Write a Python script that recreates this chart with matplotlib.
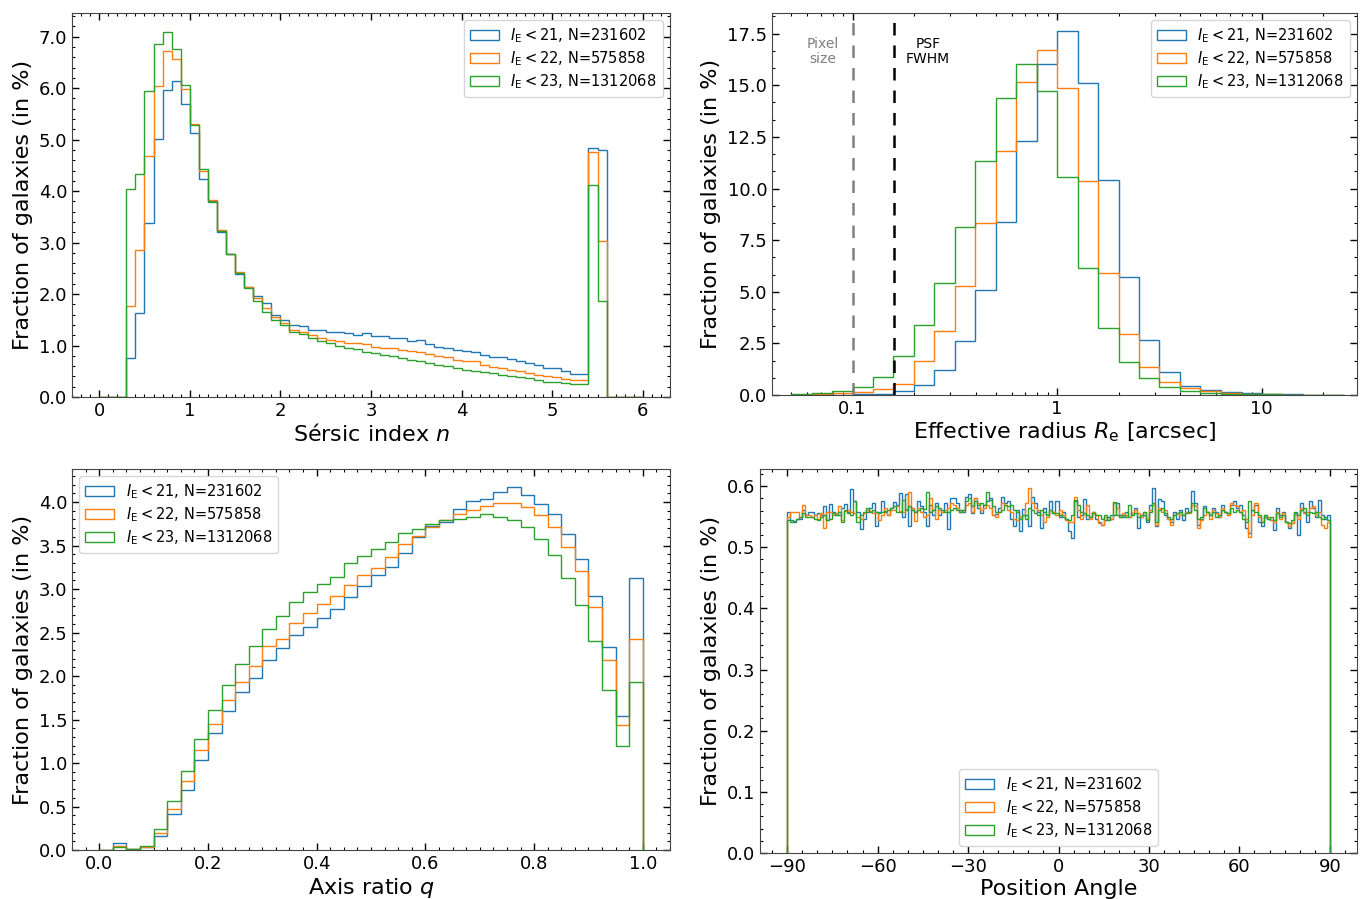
import numpy as np
import matplotlib
matplotlib.use("Agg")
import matplotlib.pyplot as plt
from matplotlib.ticker import AutoMinorLocator, MultipleLocator, FormatStrFormatter, FuncFormatter

labels = [r"$I_{\rm E}<21$, N=231602",
          r"$I_{\rm E}<22$, N=575858",
          r"$I_{\rm E}<23$, N=1312068"]
colors = ["tab:blue", "tab:orange", "tab:green"]

# Sersic index, bins of 0.1 from 0 to 6
sersic_edges = np.linspace(0, 6, 61)
sersic_21 = [0, 0, 0, 0.76, 1.64, 3.39, 5.01, 5.97, 6.14, 5.69, 5.12, 4.24, 3.80, 3.21, 2.77, 2.38,
             2.13, 1.97, 1.82, 1.59, 1.49, 1.40, 1.37, 1.30, 1.30, 1.26, 1.27, 1.24, 1.21, 1.24,
             1.18, 1.19, 1.15, 1.15, 1.09, 1.10, 1.03, 0.97, 0.96, 0.92, 0.90, 0.87, 0.82, 0.77,
             0.78, 0.73, 0.70, 0.66, 0.62, 0.57, 0.56, 0.50, 0.44, 0.44, 4.84, 4.80, 0, 0, 0, 0]
sersic_22 = [0, 0, 0, 1.76, 2.85, 4.68, 6.04, 6.72, 6.57, 5.98, 5.30, 4.40, 3.83, 3.24, 2.78, 2.42,
             2.14, 1.92, 1.73, 1.55, 1.44, 1.31, 1.27, 1.21, 1.15, 1.11, 1.08, 1.05, 1.04, 1.03,
             0.98, 0.95, 0.95, 0.91, 0.89, 0.87, 0.83, 0.80, 0.77, 0.72, 0.70, 0.69, 0.62, 0.59,
             0.56, 0.53, 0.50, 0.46, 0.43, 0.40, 0.38, 0.35, 0.33, 0.33, 4.75, 3.03, 0, 0, 0, 0]
sersic_23 = [0, 0, 0, 4.05, 4.33, 5.95, 6.86, 7.10, 6.76, 6.07, 5.28, 4.42, 3.79, 3.22, 2.77, 2.40,
             2.12, 1.86, 1.66, 1.50, 1.39, 1.27, 1.22, 1.14, 1.09, 1.05, 0.99, 0.96, 0.93, 0.88,
             0.85, 0.82, 0.79, 0.76, 0.72, 0.69, 0.66, 0.63, 0.60, 0.56, 0.53, 0.51, 0.49, 0.46,
             0.42, 0.40, 0.38, 0.36, 0.33, 0.30, 0.29, 0.27, 0.25, 0.25, 4.12, 1.87, 0, 0, 0, 0]

# Effective radius, bins of 0.1 dex from 10^-1.3 to 10^1.4
re_log_edges = np.round(np.arange(-13, 15) / 10, 1)
re_21 = [0.0, 0.01, 0.02, 0.03, 0.07, 0.20, 0.50, 1.21, 2.63, 5.09, 8.40, 12.28, 16.05, 17.62,
         15.11, 10.39, 5.70, 2.68, 1.09, 0.45, 0.24, 0.14, 0.10, 0.06, 0.04, 0.02, 0.01]
re_22 = [0.01, 0.03, 0.09, 0.15, 0.30, 0.53, 1.63, 3.08, 5.30, 8.32, 11.82, 15.16, 16.73, 14.89,
         10.34, 5.91, 2.95, 1.38, 0.61, 0.32, 0.18, 0.10, 0.06, 0.04, 0.02, 0.01, 0.01]
re_23 = [0.03, 0.09, 0.19, 0.40, 0.88, 1.87, 3.41, 5.44, 8.13, 11.35, 14.36, 16.02, 14.73, 10.55,
         6.16, 3.23, 1.58, 0.80, 0.40, 0.20, 0.12, 0.07, 0.04, 0.03, 0.02, 0.01, 0.01]
pixel_size = 0.1
psf_fwhm = 0.16

# Axis ratio, bins of 0.025 from 0 to 1
q_edges = np.linspace(0, 1, 41)
q_21 = [0, 0.08, 0.01, 0.03, 0.16, 0.41, 0.69, 1.03, 1.34, 1.60, 1.82, 1.98, 2.19, 2.32, 2.47,
        2.56, 2.67, 2.77, 2.91, 3.03, 3.16, 3.25, 3.42, 3.60, 3.72, 3.77, 3.92, 4.01, 4.04, 4.11,
        4.17, 4.08, 3.98, 3.86, 3.63, 3.34, 2.92, 2.33, 1.54, 3.13]
q_22 = [0, 0.05, 0.01, 0.04, 0.19, 0.47, 0.79, 1.15, 1.45, 1.73, 1.93, 2.12, 2.34, 2.42, 2.61,
        2.72, 2.83, 2.92, 3.05, 3.16, 3.24, 3.37, 3.52, 3.61, 3.71, 3.79, 3.86, 3.91, 3.95, 3.99,
        3.99, 3.94, 3.85, 3.71, 3.48, 3.21, 2.79, 2.19, 1.44, 2.43]
q_23 = [0, 0.03, 0.01, 0.05, 0.24, 0.56, 0.91, 1.28, 1.61, 1.90, 2.14, 2.35, 2.54, 2.69, 2.85,
        2.97, 3.06, 3.14, 3.30, 3.38, 3.46, 3.54, 3.64, 3.69, 3.75, 3.79, 3.81, 3.83, 3.86, 3.83,
        3.79, 3.71, 3.58, 3.39, 3.13, 2.82, 2.40, 1.84, 1.19, 1.93]

# Position angle, bins of 1 deg from -90 to 90
pa_edges = np.arange(-90, 91, 1)
pa_21 = [0.557, 0.545, 0.542, 0.547, 0.547, 0.561, 0.553, 0.558, 0.558, 0.553,
         0.556, 0.553, 0.568, 0.545, 0.571, 0.558, 0.553, 0.553, 0.564, 0.570,
         0.558, 0.595, 0.575, 0.558, 0.530, 0.547, 0.558, 0.564, 0.573, 0.535,
         0.558, 0.576, 0.558, 0.553, 0.564, 0.574, 0.569, 0.588, 0.550, 0.587,
         0.535, 0.564, 0.558, 0.575, 0.567, 0.558, 0.535, 0.569, 0.553, 0.572,
         0.553, 0.558, 0.572, 0.530, 0.580, 0.580, 0.572, 0.561, 0.558,
         0.583, 0.587, 0.556, 0.580, 0.564, 0.556, 0.569, 0.575, 0.580, 0.553,
         0.554, 0.564, 0.583, 0.572, 0.575, 0.547, 0.534, 0.561, 0.527, 0.563,
         0.553, 0.534, 0.583, 0.572, 0.558, 0.531, 0.564, 0.553, 0.575, 0.556,
         0.576, 0.550, 0.558, 0.547, 0.526, 0.515, 0.575, 0.550, 0.553, 0.579,
         0.547, 0.550, 0.558, 0.547, 0.542, 0.536, 0.545, 0.550, 0.547, 0.553,
         0.572, 0.553, 0.550, 0.558, 0.550, 0.556, 0.564, 0.532, 0.550, 0.553,
         0.542, 0.569, 0.597, 0.534, 0.579, 0.575, 0.553, 0.547, 0.542, 0.558,
         0.547, 0.561, 0.545, 0.564, 0.558, 0.592, 0.572, 0.536, 0.547, 0.567,
         0.558, 0.553, 0.564, 0.558, 0.550, 0.569, 0.558, 0.553, 0.569, 0.575,
         0.564, 0.569, 0.553, 0.531, 0.523, 0.561, 0.569, 0.542, 0.534, 0.550,
         0.547, 0.545, 0.528, 0.564, 0.553, 0.558, 0.542, 0.531, 0.539, 0.556,
         0.520, 0.572, 0.558, 0.542, 0.575, 0.565, 0.550, 0.577, 0.553, 0.547,
         0.553]
pa_22 = [0.550, 0.557, 0.557, 0.557, 0.550, 0.569, 0.553, 0.553, 0.550, 0.553,
         0.547, 0.556, 0.531, 0.558, 0.558, 0.553, 0.556, 0.567, 0.545, 0.559,
         0.561, 0.558, 0.556, 0.550, 0.547, 0.556, 0.561, 0.559, 0.556, 0.558,
         0.545, 0.553, 0.565, 0.553, 0.561, 0.561, 0.567, 0.559, 0.558, 0.563,
         0.591, 0.564, 0.543, 0.564, 0.558, 0.550, 0.553, 0.580, 0.561, 0.547,
         0.561, 0.558, 0.561, 0.564, 0.572, 0.569, 0.564, 0.558, 0.561,
         0.569, 0.572, 0.558, 0.580, 0.572, 0.561, 0.564, 0.569, 0.564, 0.553,
         0.550, 0.558, 0.572, 0.569, 0.561, 0.558, 0.547, 0.545, 0.550, 0.552,
         0.572, 0.597, 0.572, 0.564, 0.561, 0.553, 0.542, 0.549, 0.561, 0.558,
         0.553, 0.561, 0.553, 0.545, 0.542, 0.542, 0.583, 0.561, 0.547, 0.553,
         0.569, 0.547, 0.558, 0.553, 0.539, 0.536, 0.550, 0.545, 0.547, 0.572,
         0.564, 0.550, 0.556, 0.553, 0.550, 0.556, 0.561, 0.556, 0.550, 0.558,
         0.547, 0.561, 0.569, 0.536, 0.564, 0.558, 0.561, 0.547, 0.536, 0.553,
         0.556, 0.553, 0.553, 0.558, 0.556, 0.569, 0.567, 0.531, 0.545, 0.553,
         0.558, 0.547, 0.561, 0.556, 0.550, 0.564, 0.558, 0.553, 0.572, 0.569,
         0.567, 0.558, 0.561, 0.547, 0.517, 0.553, 0.572, 0.550, 0.542, 0.553,
         0.550, 0.545, 0.542, 0.558, 0.547, 0.556, 0.542, 0.534, 0.539, 0.553,
         0.547, 0.564, 0.556, 0.558, 0.564, 0.567, 0.553, 0.558, 0.536, 0.531,
         0.542]
pa_23 = [0.545, 0.542, 0.543, 0.547, 0.550, 0.556, 0.550, 0.549, 0.550, 0.547,
         0.545, 0.549, 0.553, 0.545, 0.547, 0.556, 0.553, 0.558, 0.542, 0.561,
         0.556, 0.553, 0.576, 0.542, 0.552, 0.558, 0.564, 0.558, 0.561, 0.558,
         0.556, 0.558, 0.559, 0.561, 0.564, 0.567, 0.558, 0.558, 0.577, 0.561,
         0.567, 0.561, 0.558, 0.561, 0.564, 0.563, 0.591, 0.558, 0.561, 0.567,
         0.564, 0.561, 0.558, 0.558, 0.561, 0.564, 0.561, 0.558, 0.561,
         0.575, 0.580, 0.567, 0.575, 0.569, 0.572, 0.569, 0.591, 0.577, 0.567,
         0.558, 0.558, 0.561, 0.569, 0.567, 0.569, 0.561, 0.558, 0.547, 0.553,
         0.547, 0.564, 0.561, 0.556, 0.553, 0.561, 0.558, 0.553, 0.561, 0.556,
         0.556, 0.553, 0.550, 0.547, 0.545, 0.553, 0.577, 0.569, 0.558, 0.556,
         0.553, 0.550, 0.556, 0.553, 0.553, 0.547, 0.553, 0.545, 0.553, 0.574,
         0.553, 0.550, 0.553, 0.550, 0.569, 0.553, 0.556, 0.550, 0.553, 0.558,
         0.545, 0.558, 0.572, 0.542, 0.561, 0.564, 0.556, 0.550, 0.547, 0.553,
         0.556, 0.558, 0.553, 0.556, 0.558, 0.572, 0.561, 0.547, 0.550, 0.564,
         0.558, 0.553, 0.558, 0.550, 0.553, 0.561, 0.558, 0.556, 0.564, 0.558,
         0.561, 0.558, 0.547, 0.542, 0.575, 0.561, 0.558, 0.553, 0.542, 0.553,
         0.547, 0.550, 0.545, 0.556, 0.550, 0.553, 0.542, 0.539, 0.545, 0.558,
         0.553, 0.561, 0.564, 0.553, 0.558, 0.556, 0.558, 0.550, 0.547, 0.550,
         0.545]

W, H = 1366, 899
fig = plt.figure(figsize=(W / 100, H / 100), dpi=100)


def box(l, r, t, b):
    return [l / W, 1 - b / H, (r - l) / W, (b - t) / H]


ax1 = fig.add_axes(box(72, 670, 13, 397))
ax2 = fig.add_axes(box(772, 1357, 13, 395))
ax3 = fig.add_axes(box(72, 670, 469, 850))
ax4 = fig.add_axes(box(760, 1357, 469, 853))


def step_hists(ax, edges, series):
    # weighted step histograms: one weight per bin, placed at the bin's left edge
    for vals, c, lab in zip(series, colors, labels):
        ax.hist(edges[:-1], bins=edges, weights=vals, histtype="step",
                color=c, label=lab, linewidth=1.0)


def style(ax):
    ax.tick_params(which="both", direction="in", top=True, right=True, labelsize=13)
    ax.tick_params(which="major", length=5, width=1)
    ax.tick_params(which="minor", length=2.5, width=0.8)
    for s in ax.spines.values():
        s.set_color("#444444")


def legend(ax, loc):
    ax.legend(loc=loc, fontsize=10.5, labelspacing=0.3, handlelength=2.0,
              borderpad=0.4, handletextpad=0.8)


ylab = "Fraction of galaxies (in %)"

# Sersic index
step_hists(ax1, sersic_edges, [sersic_21, sersic_22, sersic_23])
ax1.set_xlim(-0.3, 6.3)
ax1.set_ylim(0, 7.46)
ax1.xaxis.set_major_locator(MultipleLocator(1))
ax1.xaxis.set_minor_locator(MultipleLocator(0.1))
ax1.yaxis.set_major_locator(MultipleLocator(1))
ax1.yaxis.set_minor_locator(MultipleLocator(0.2))
ax1.yaxis.set_major_formatter(FormatStrFormatter("%.1f"))
ax1.set_xlabel(r"Sérsic index $n$", fontsize=16, labelpad=2)
ax1.set_ylabel(ylab, fontsize=16)
legend(ax1, "upper right")
style(ax1)

# Effective radius
re_edges = 10.0 ** re_log_edges
step_hists(ax2, re_edges, [re_21, re_22, re_23])
ax2.set_xscale("log")
ax2.set_xlim(0.0404, 29.2)
ax2.set_ylim(0, 18.5)
ax2.axvline(pixel_size, color="gray", ls=(0, (5, 4)), lw=1.8)
ax2.axvline(psf_fwhm, color="black", ls=(0, (5, 4)), lw=1.8)
ax2.text(0.0713, 16.65, "Pixel\nsize", color="gray", fontsize=10, ha="center", va="center",
         linespacing=1.1)
ax2.text(0.233, 16.65, "PSF\nFWHM", color="black", fontsize=10, ha="center", va="center",
         linespacing=1.1)
ax2.xaxis.set_major_formatter(FuncFormatter(lambda v, p: f"{v:g}"))
ax2.yaxis.set_major_locator(MultipleLocator(2.5))
ax2.yaxis.set_minor_locator(AutoMinorLocator(3))
ax2.yaxis.set_major_formatter(FormatStrFormatter("%.1f"))
ax2.set_xlabel(r"Effective radius $R_{\rm e}$ [arcsec]", fontsize=16, labelpad=2)
ax2.set_ylabel(ylab, fontsize=16)
legend(ax2, "upper right")
style(ax2)

# Axis ratio
step_hists(ax3, q_edges, [q_21, q_22, q_23])
ax3.set_xlim(-0.05, 1.05)
ax3.set_ylim(0, 4.38)
ax3.xaxis.set_major_locator(MultipleLocator(0.2))
ax3.xaxis.set_minor_locator(MultipleLocator(0.025))
ax3.yaxis.set_major_locator(MultipleLocator(0.5))
ax3.yaxis.set_minor_locator(MultipleLocator(0.1))
ax3.xaxis.set_major_formatter(FormatStrFormatter("%.1f"))
ax3.yaxis.set_major_formatter(FormatStrFormatter("%.1f"))
ax3.set_xlabel(r"Axis ratio $q$", fontsize=16, labelpad=2)
ax3.set_ylabel(ylab, fontsize=16)
legend(ax3, "upper left")
style(ax3)

# Position angle
step_hists(ax4, pa_edges, [pa_21, pa_22, pa_23])
ax4.set_xlim(-99, 99)
ax4.set_ylim(0, 0.628)
ax4.xaxis.set_major_locator(MultipleLocator(30))
ax4.xaxis.set_minor_locator(MultipleLocator(5))
ax4.yaxis.set_major_locator(MultipleLocator(0.1))
ax4.yaxis.set_minor_locator(MultipleLocator(0.02))
ax4.yaxis.set_major_formatter(FormatStrFormatter("%.1f"))
ax4.set_xlabel("Position Angle", fontsize=16, labelpad=2)
ax4.set_ylabel(ylab, fontsize=16)
legend(ax4, "lower center")
style(ax4)

fig.savefig("out.png", dpi=100)
